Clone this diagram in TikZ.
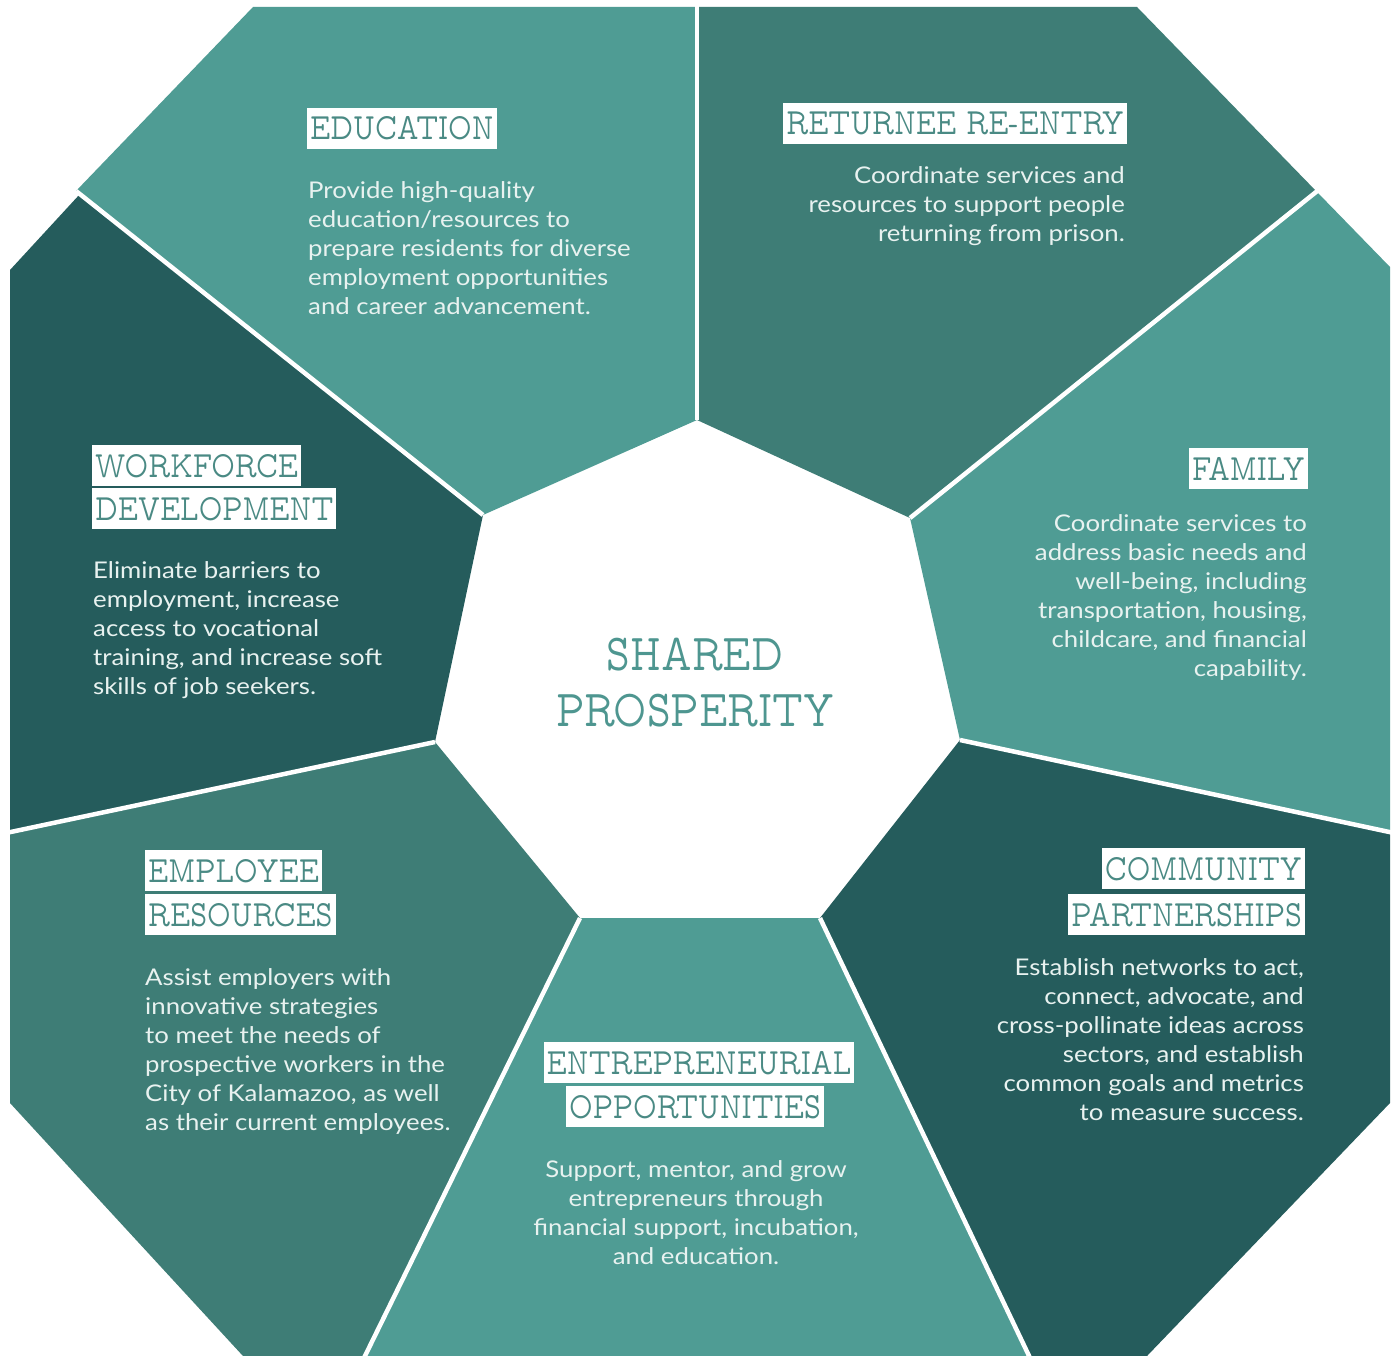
\documentclass[tikz,border=0pt]{standalone}
\usepackage{fontspec}
\newfontfamily\bodyfont[FakeStretch=1.12]{Lato}
\newfontfamily\titlefont[FakeStretch=0.78]{lmmonoprop10-regular.otf}
\definecolor{seclight}{RGB}{79,156,148}
\definecolor{secmid}{RGB}{62,125,118}
\definecolor{secdark}{RGB}{37,92,92}
\definecolor{titlecol}{RGB}{74,138,132}
\definecolor{centercol}{RGB}{78,150,144}
\definecolor{bodycol}{RGB}{232,242,240}
\begin{document}
\begin{tikzpicture}[x=1pt,y=-1pt,
  ttl/.style={fill=white, text=titlecol, font=\titlefont\fontsize{37}{37}\selectfont,
    inner xsep=3pt, inner ysep=0pt, text height=32pt, text depth=9pt},
  body/.style={text=bodycol, inner sep=0pt, font=\bodyfont\fontsize{23}{29}\selectfont},
  divider/.style={white, line width=4.5pt},
  sector/.style={draw=none}]
\useasboundingbox (0,0) rectangle (1394,1356);
\fill[white] (0,0) rectangle (1394,1356);
% outer octagon
\coordinate (O1) at (253,7);
\coordinate (O2) at (1137,7);
\coordinate (O3) at (1390,267);
\coordinate (O4) at (1390,1103);
\coordinate (O5) at (1147,1356);
\coordinate (O6) at (243,1356);
\coordinate (O7) at (10,1103);
\coordinate (O8) at (10,270);
% central heptagon
\coordinate (H1) at (697,420);
\coordinate (H2) at (910,518);
\coordinate (H3) at (960,740);
\coordinate (H4) at (820,918);
\coordinate (H5) at (580,918);
\coordinate (H6) at (435,742);
\coordinate (H7) at (483,515);
% divider ends
\coordinate (D1) at (697,0);
\coordinate (D2) at (1321,188);
\coordinate (D3) at (1394,833);
\coordinate (D4) at (1031,1360);
\coordinate (D5) at (363,1360);
\coordinate (D6) at (6,833);
\coordinate (D7) at (76,191);
% sectors
\fill[seclight] (D7) -- (O1) -- (697,7) -- (H1) -- (H7) -- cycle;
\fill[secmid] (697,7) -- (O2) -- (1317,192) -- (H2) -- (H1) -- cycle;
\fill[seclight] (1317,192) -- (O3) -- (1390,832) -- (H3) -- (H2) -- cycle;
\fill[secdark] (1390,832) -- (O4) -- (O5) -- (1030,1356) -- (H4) -- (H3) -- cycle;
\fill[seclight] (1030,1356) -- (365,1356) -- (H5) -- (H4) -- cycle;
\fill[secmid] (365,1356) -- (O6) -- (O7) -- (10,832) -- (H6) -- (H5) -- cycle;
\fill[secdark] (10,832) -- (O8) -- (80,194) -- (H7) -- (H6) -- cycle;
% dividers
\draw[divider] (H1) -- (D1);
\draw[divider] (H2) -- (D2);
\draw[divider] (H3) -- (D3);
\draw[divider] (H4) -- (D4);
\draw[divider] (H5) -- (D5);
\draw[divider] (H6) -- (D6);
\draw[divider] (H7) -- (D7);
% centre
\node[text=centercol, inner sep=0pt, font=\titlefont\fontsize{52}{56}\selectfont, anchor=base] (center) at (695,670)
  {\begin{tabular}[t]{@{}c@{}}SHARED\\PROSPERITY\end{tabular}};
% education
\node[ttl, anchor=base west] (eduT) at (307,140) {EDUCATION};
\node[body, anchor=base west] (eduB) at (308,199)
  {\begin{tabular}[t]{@{}l@{}}Provide high-quality\\education/resources to\\prepare residents for diverse\\employment opportunities\\and career advancement.\end{tabular}};
% returnee
\node[ttl, anchor=base east] (retT) at (1127,135) {RETURNEE RE-ENTRY};
\node[body, anchor=base east] (retB) at (1125,184)
  {\begin{tabular}[t]{@{}r@{}}Coordinate services and\\resources to support people\\returning from prison.\end{tabular}};
% family
\node[ttl, anchor=base east] (famT) at (1308,480) {FAMILY};
\node[body, anchor=base east] (famB) at (1307,531)
  {\begin{tabular}[t]{@{}r@{}}Coordinate services to\\address basic needs and\\well-being, including\\transportation, housing,\\childcare, and financial\\capability.\end{tabular}};
% workforce
\node[ttl, anchor=base west] (wfT1) at (92,477) {WORKFORCE};
\node[ttl, anchor=base west] (wfT2) at (92,520) {DEVELOPMENT};
\node[body, anchor=base west] (wfB) at (93,578)
  {\begin{tabular}[t]{@{}l@{}}Eliminate barriers to\\employment, increase\\access to vocational\\training, and increase soft\\skills of job seekers.\end{tabular}};
% employee
\node[ttl, anchor=base west] (emT1) at (145,882) {EMPLOYEE};
\node[ttl, anchor=base west] (emT2) at (145,926) {RESOURCES};
\node[body, anchor=base west] (emB) at (145,985)
  {\begin{tabular}[t]{@{}l@{}}Assist employers with\\innovative strategies\\to meet the needs of\\prospective workers in the\\City of Kalamazoo, as well\\as their current employees.\end{tabular}};
% community
\node[ttl, anchor=base east] (coT1) at (1305,880) {COMMUNITY};
\node[ttl, anchor=base east] (coT2) at (1305,926) {PARTNERSHIPS};
\node[body, anchor=base east] (coB) at (1304,975)
  {\begin{tabular}[t]{@{}r@{}}Establish networks to act,\\connect, advocate, and\\cross-pollinate ideas across\\sectors, and establish\\common goals and metrics\\to measure success.\end{tabular}};
% entrepreneurial
\node[ttl, anchor=base] (enT1) at (699,1074) {ENTREPRENEURIAL};
\node[ttl, anchor=base] (enT2) at (695,1118) {OPPORTUNITIES};
\node[body, anchor=base] (enB) at (696,1177)
  {\begin{tabular}[t]{@{}c@{}}Support, mentor, and grow\\entrepreneurs through\\financial support, incubation,\\and education.\end{tabular}};
\end{tikzpicture}
\end{document}
